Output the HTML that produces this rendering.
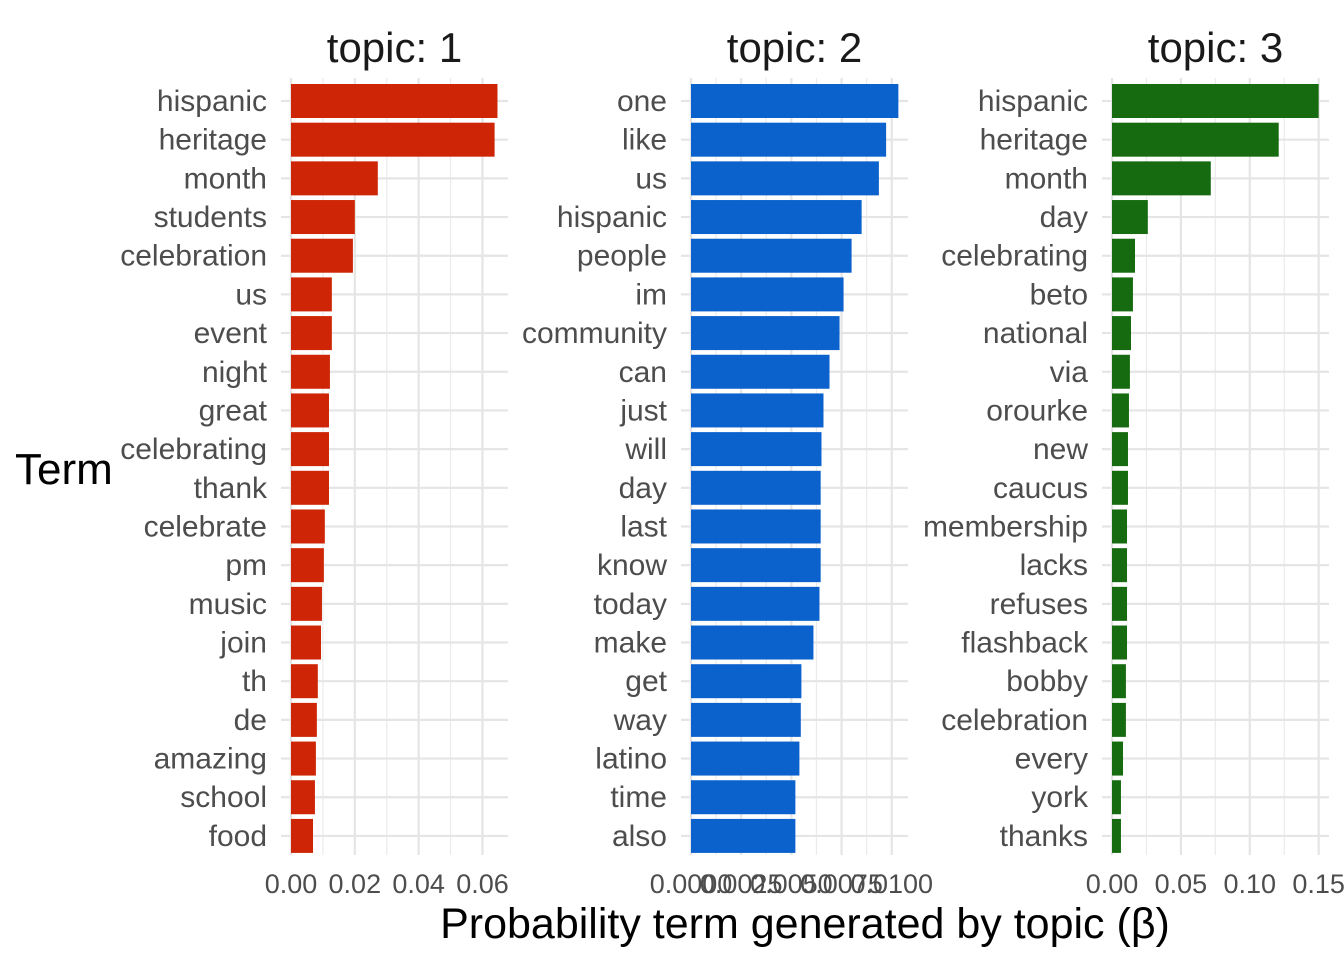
<!DOCTYPE html>
<html><head><meta charset="utf-8"><style>
html,body{margin:0;padding:0;background:#fff;}
svg{display:block;font-family:"Liberation Sans",Arial,sans-serif;}
</style></head><body>
<svg id="chart" width="1344" height="960" viewBox="0 0 1344 960">
<text x="15" y="484" font-size="44" fill="#000" text-anchor="start">Term</text>
<text x="805" y="938" font-size="43" fill="#000" text-anchor="middle">Probability term generated by topic (β)</text>
</svg>
<script>
const terms1 = ["hispanic","heritage","month","students","celebration","us","event","night","great","celebrating","thank","celebrate","pm","music","join","th","de","amazing","school","food"];
const values1 = [0.0647,0.0638,0.0272,0.0200,0.0194,0.0128,0.0128,0.0122,0.0119,0.0119,0.0119,0.0106,0.0103,0.0097,0.0094,0.0084,0.0081,0.0078,0.0075,0.0069];
const ticks1 = [0,0.02,0.04,0.06];
const tickLabels1 = ["0.00","0.02","0.04","0.06"];
const terms2 = ["one","like","us","hispanic","people","im","community","can","just","will","day","last","know","today","make","get","way","latino","time","also"];
const values2 = [0.01033,0.00972,0.00936,0.0085,0.0080,0.0076,0.0074,0.0069,0.0066,0.0065,0.00646,0.00646,0.00646,0.0064,0.0061,0.0055,0.00547,0.0054,0.0052,0.0052];
const ticks2 = [0,0.0025,0.005,0.0075,0.01];
const tickLabels2 = ["0.0000","0.0025","0.0050","0.0075","0.0100"];
const terms3 = ["hispanic","heritage","month","day","celebrating","beto","national","via","orourke","new","caucus","membership","lacks","refuses","flashback","bobby","celebration","every","york","thanks"];
const values3 = [0.150,0.121,0.0717,0.026,0.0167,0.0152,0.0138,0.013,0.0123,0.0116,0.0116,0.0109,0.0109,0.0109,0.0109,0.0101,0.0101,0.008,0.0065,0.0065];
const ticks3 = [0,0.05,0.10,0.15];
const tickLabels3 = ["0.00","0.05","0.10","0.15"];

const NS="http://www.w3.org/2000/svg";
const svgEl=document.getElementById('chart');
function mk(tag,attrs,parent){const e=document.createElementNS(NS,tag);for(const k in attrs)e.setAttribute(k,attrs[k]);(parent||svgEl).appendChild(e);return e;}

const panels=[
 {title:"topic: 1",terms:terms1,vals:values1,ticks:ticks1,labels:tickLabels1,x0:291,xmax:0.068,left:281,right:508,color:"#CD2505"},
 {title:"topic: 2",terms:terms2,vals:values2,ticks:ticks2,labels:tickLabels2,x0:691,xmax:0.01081,left:681,right:908,color:"#0B62CC"},
 {title:"topic: 3",terms:terms3,vals:values3,ticks:ticks3,labels:tickLabels3,x0:1112,xmax:0.1575,left:1102,right:1329,color:"#166B10"}
];
const panelTop=78,panelBottom=855,rowY0=101,rowStep=38.68,barH=34;
panels.forEach((p,pi)=>{
  const g=mk('g',{});
  
  
  const xs=v=>p.x0+v/p.xmax*(p.right-p.x0);
  for(let i=0;i<p.ticks.length-1;i++){
    const m=(p.ticks[i]+p.ticks[i+1])/2;
    mk('line',{x1:xs(m),x2:xs(m),y1:panelTop,y2:panelBottom,stroke:"#ebebeb","stroke-width":1.2},g);
  }
  p.ticks.forEach((t,i)=>{
    mk('line',{x1:xs(t),x2:xs(t),y1:panelTop,y2:panelBottom,stroke:"#e5e5e5","stroke-width":2.2},g);
    const tl=mk('text',{x:xs(t),y:893,"font-size":27,fill:"#4d4d4d","text-anchor":"middle"},g);
    
    
    tl.textContent=p.labels[i];
  });
  p.terms.forEach((t,i)=>{
    const y=rowY0+i*rowStep;
    mk('line',{x1:p.left,x2:p.right,y1:y,y2:y,stroke:"#e5e5e5","stroke-width":2.2},g);
  });
  p.terms.forEach((t,i)=>{
    const y=rowY0+i*rowStep;
    const r=mk('rect',{x:p.x0,y:y-barH/2,width:xs(p.vals[i])-p.x0,height:barH,fill:p.color},g);
    
    
    const tx=mk('text',{x:p.left-14,y:y+10,"font-size":30,fill:"#4d4d4d","text-anchor":"end"},g);
    
    
    tx.textContent=t;
  });
  const ti=mk('text',{x:(p.left+p.right)/2,y:62,"font-size":42,fill:"#1a1a1a","text-anchor":"middle"},g);
  
  
  ti.textContent=p.title;
});
</script>
</body></html>
